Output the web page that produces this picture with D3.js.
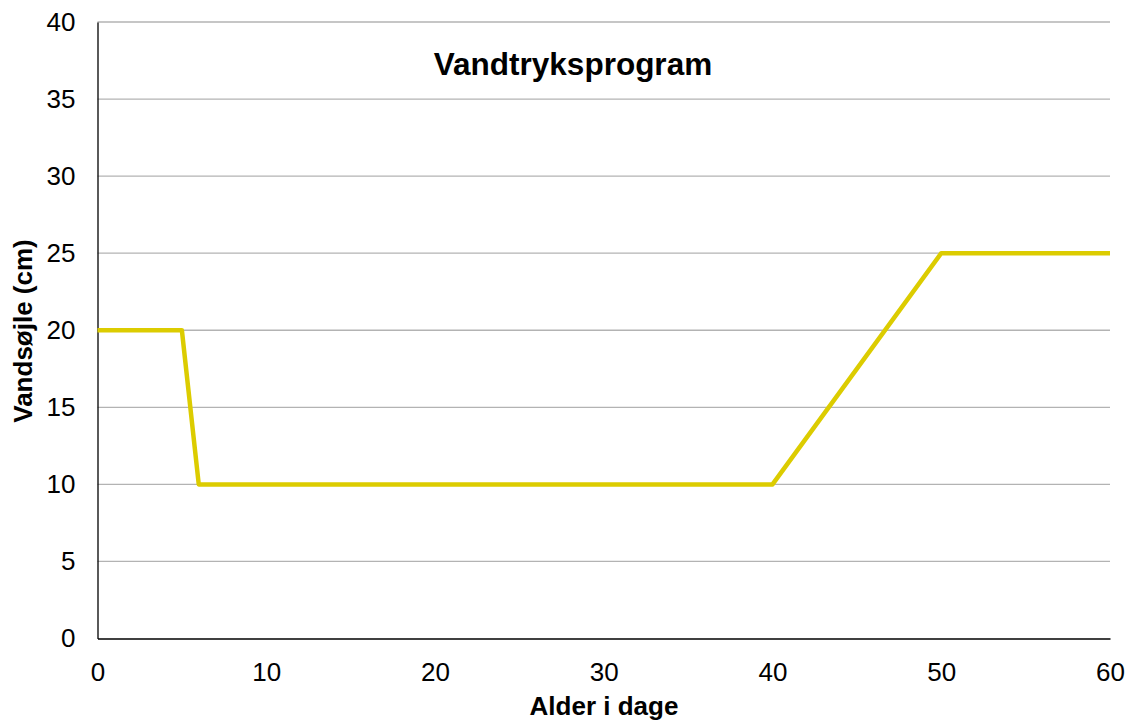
<!DOCTYPE html>
<html>
<head>
<meta charset="utf-8">
<script src="https://cdn.jsdelivr.net/npm/d3@7"></script>
<style>
  body { margin: 0; background: #fff; }
  text { font-family: "Liberation Sans", Arial, sans-serif; }
</style>
</head>
<body>
<div id="chart"></div>
<script>
const w = 1128;
const h = 722;

// data
const days = [0, 5, 6, 40, 50, 60];
const water = [20, 20, 10, 10, 25, 25];
const xTicks = [0, 10, 20, 30, 40, 50, 60];
const yTicks = [0, 5, 10, 15, 20, 25, 30, 35, 40];

const plotLeft = 97.5, plotRight = 1110, plotTop = 22, plotBottom = 638.5;

const svg = d3.select("#chart")
                .append("svg")
                .attr("width", w)
                .attr("height", h);

const x = d3.scaleLinear().domain([0, 60]).range([plotLeft, plotRight]);
const y = d3.scaleLinear().domain([0, 40]).range([plotBottom, plotTop]);

// gridlines
svg.append("g")
    .selectAll("line")
    .data(yTicks.filter(d => d > 0))
    .enter()
    .append("line")
    .attr("x1", plotLeft)
    .attr("x2", plotRight)
    .attr("y1", d => y(d))
    .attr("y2", d => y(d))
    .attr("stroke", "#b3b3b3")
    .attr("stroke-width", 1.3);

// y axis
const yAxis = svg.append("g")
    .attr("transform", "translate(" + plotLeft + ",0)")
    .call(d3.axisLeft(y).tickValues(yTicks).tickSize(0).tickPadding(22));
yAxis.select(".domain").attr("stroke", "#000").attr("stroke-width", 1.3);
yAxis.selectAll("text").attr("font-size", 26).attr("fill", "#000")
    .attr("font-family", "Liberation Sans, Arial, sans-serif");

// x axis
const xAxis = svg.append("g")
    .attr("transform", "translate(0," + plotBottom + ")")
    .call(d3.axisBottom(x).tickValues(xTicks).tickSize(0).tickPadding(24));
xAxis.select(".domain").attr("stroke", "#000").attr("stroke-width", 1.3);
xAxis.selectAll("text").attr("font-size", 26).attr("fill", "#000")
    .attr("font-family", "Liberation Sans, Arial, sans-serif");

// line
const line = d3.line()
    .x((d, i) => x(days[i]))
    .y(d => y(d));

svg.append("path")
    .datum(water)
    .attr("d", line)
    .attr("fill", "none")
    .attr("stroke", "#dccc00")
    .attr("stroke-width", 4.5)
    .attr("stroke-linejoin", "round");

// titles
svg.append("text")
    .attr("x", 573)
    .attr("y", 75)
    .attr("text-anchor", "middle")
    .attr("font-size", 31.5)
    .attr("font-weight", "bold")
    .text("Vandtryksprogram");

svg.append("text")
    .attr("x", 604)
    .attr("y", 715)
    .attr("text-anchor", "middle")
    .attr("font-size", 26)
    .attr("font-weight", "bold")
    .text("Alder i dage");

svg.append("text")
    .attr("transform", "translate(32,331) rotate(-90)")
    .attr("text-anchor", "middle")
    .attr("font-size", 26)
    .attr("font-weight", "bold")
    .text("Vandsøjle (cm)");
</script>
</body>
</html>
